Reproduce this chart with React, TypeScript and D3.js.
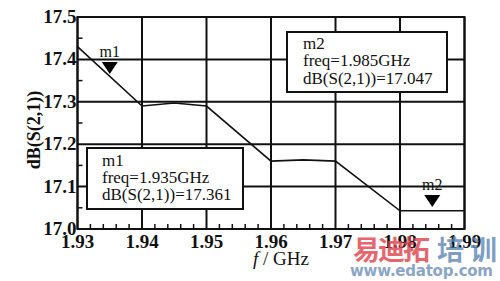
import React from "react";
import * as d3 from "d3";

const freqs = [1.93, 1.94, 1.945, 1.95, 1.96, 1.965, 1.97, 1.98, 1.99];
const s21 = [17.43, 17.29, 17.297, 17.29, 17.16, 17.163, 17.16, 17.043, 17.043];
const xTicks = [1.93, 1.94, 1.95, 1.96, 1.97, 1.98, 1.99];
const yTicks = [17.0, 17.1, 17.2, 17.3, 17.4, 17.5];
const markers = [
  { name: "m1", freq: 1.935, value: 17.361 },
  { name: "m2", freq: 1.985, value: 17.047 },
];

const W = 500, H = 281;
const L = 77.5, R = 464.5, T = 17, B = 229;

export default function App() {
  const x = d3.scaleLinear().domain([1.93, 1.99]).range([L, R]);
  const y = d3.scaleLinear().domain([17.0, 17.5]).range([B, T]);
  const line = d3.line<number>().x((_, i) => x(freqs[i])).y((d) => y(d));
  const minorX: number[] = [];
  for (let i = 0; i < 6; i++) for (let k = 1; k < 5; k++) minorX.push(1.93 + i * 0.01 + k * 0.002);
  const minorY = [17.05, 17.15, 17.25, 17.35, 17.45];
  const font = "'Liberation Serif', 'Times New Roman', serif";

  const boxes = [
    { m: markers[1], x0: 287, y0: 32, w: 160, h: 60, tx: 303, by: [49, 66, 84] },
    { m: markers[0], x0: 87, y0: 148, w: 156, h: 61, tx: 102, by: [166, 183, 200] },
  ];

  return (
    <svg width={W} height={H} style={{ position: "absolute", left: 0, top: 0, background: "#fff" }} fontFamily={font}>
      <rect width={W} height={H} fill="#fff" />
      {xTicks.map((t) => (
        <line key={"gx" + t} x1={x(t)} x2={x(t)} y1={T} y2={B} stroke="#111" strokeWidth={2} />
      ))}
      {yTicks.map((t) => (
        <line key={"gy" + t} x1={L} x2={R} y1={y(t)} y2={y(t)} stroke="#111" strokeWidth={2} />
      ))}
      {minorX.map((t, i) => (
        <line key={"mx" + i} x1={x(t)} x2={x(t)} y1={B} y2={B - 5} stroke="#111" strokeWidth={1.5} />
      ))}
      {minorY.map((t, i) => (
        <line key={"my" + i} x1={L} x2={L + 5} y1={y(t)} y2={y(t)} stroke="#111" strokeWidth={1.5} />
      ))}
      <rect x={L} y={T} width={R - L} height={B - T} fill="none" stroke="#111" strokeWidth={2} />
      <path d={line(s21) || ""} fill="none" stroke="#111" strokeWidth={1.6} />
      {markers.map((m) => {
        const cx = x(m.freq), cy = y(m.value);
        return (
          <g key={m.name}>
            <path d={`M${cx - 8},${cy - 14} L${cx + 8},${cy - 14} L${cx},${cy - 2} Z`} fill="#000" />
            <text x={cx} y={cy - 19} textAnchor="middle" fontSize={16} fill="#111">{m.name}</text>
          </g>
        );
      })}
      {boxes.map((b) => (
        <g key={"b" + b.m.name}>
          <rect x={b.x0} y={b.y0} width={b.w} height={b.h} fill="#fff" stroke="#111" strokeWidth={2} />
          <text x={b.tx} y={b.by[0]} fontSize={17} fill="#111">{b.m.name}</text>
          <text x={b.tx} y={b.by[1]} fontSize={17} fill="#111">{`freq=${b.m.freq.toFixed(3)}GHz`}</text>
          <text x={b.tx} y={b.by[2]} fontSize={17} fill="#111">{`dB(S(2,1))=${b.m.value.toFixed(3)}`}</text>
        </g>
      ))}
      {yTicks.map((t) => (
        <text key={"ly" + t} x={L - 1} y={y(t) + 6} textAnchor="end" fontSize={19} fontWeight="bold" fill="#111">
          {t.toFixed(1)}
        </text>
      ))}
      {xTicks.map((t) => (
        <text key={"lx" + t} x={x(t)} y={248} textAnchor="middle" fontSize={19} fontWeight="bold" fill="#111">
          {t.toFixed(2)}
        </text>
      ))}
      <text transform="translate(40,130) rotate(-90)" textAnchor="middle" fontSize={18} fontWeight="bold" fill="#111">
        dB(S(2,1))
      </text>
      <text x={281} y={265} textAnchor="middle" fontSize={19} fill="#111">
        <tspan fontStyle="italic">f</tspan> / GHz
      </text>
      <g opacity={0.8}>
        <text x={353} y={260} fontSize={27} fontWeight="bold" fill="#e0404a" fontFamily="'Noto Sans CJK SC', sans-serif" textLength={77}>易迪拓</text>
        <text x={437} y={260} fontSize={27} fontWeight="bold" fill="#5f86b4" fontFamily="'Noto Sans CJK SC', sans-serif" textLength={60}>培训</text>
        <text x={350} y={276} fontSize={15} fontWeight="bold" fill="#6f8fb8" fontFamily="'DejaVu Sans', sans-serif" textLength={143}>www.edatop.com</text>
      </g>
    </svg>
  );
}
